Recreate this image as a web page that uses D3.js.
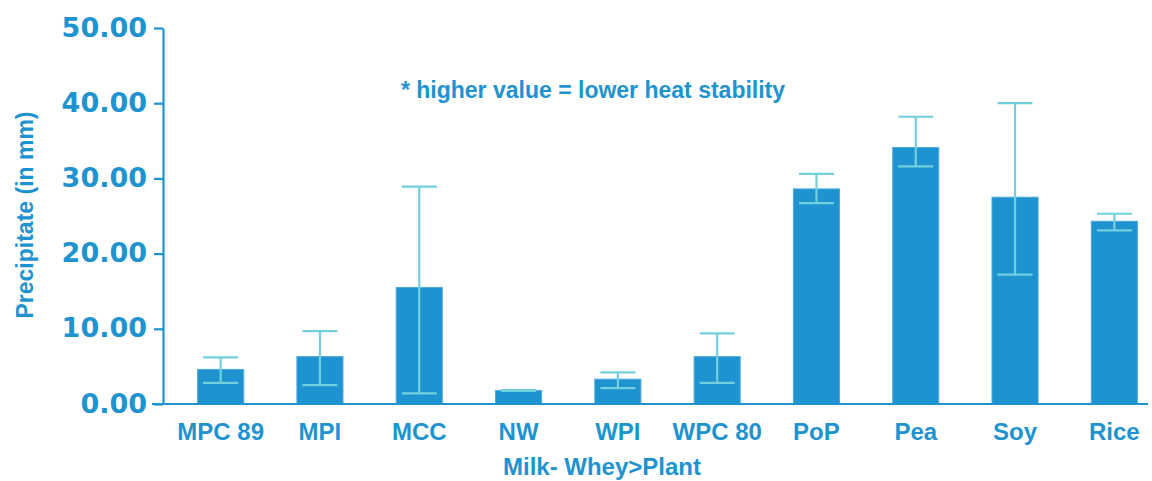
<!DOCTYPE html>
<html>
<head>
<meta charset="utf-8">
<script src="https://cdn.jsdelivr.net/npm/d3@7"></script>
<style>
  html, body { margin: 0; padding: 0; background: #ffffff; }
  svg { display: block; }
  text { font-family: "Liberation Sans", Arial, sans-serif; font-weight: bold; fill: #1e93d0; }
</style>
</head>
<body>
<svg id="chart" width="1152" height="481"></svg>
<script>
const categories = ["MPC 89", "MPI", "MCC", "NW", "WPI", "WPC 80", "PoP", "Pea", "Soy", "Rice"];
const values     = [4.6, 6.3, 15.5, 1.8, 3.3, 6.3, 28.6, 34.1, 27.5, 24.3];
const errHigh    = [6.2, 9.7, 28.9, 1.85, 4.2, 9.4, 30.6, 38.2, 40.0, 25.3];
const errLow     = [2.8, 2.5, 1.4, 1.75, 2.1, 2.8, 26.7, 31.6, 17.2, 23.1];
const yTicks     = [0, 10, 20, 30, 40, 50];
const yTitle = "Precipitate (in mm)";
const xTitle = "Milk- Whey>Plant";
const note = "* higher value = lower heat stability";

const blue = "#1e93d0";
const light = "#72d0dd";

const svg = d3.select("#chart");

const y = d3.scaleLinear().domain([0, 50]).range([404, 28]);
const x = d3.scaleBand().domain(categories).range([171, 1164])
  .paddingInner(0.536).paddingOuter(0.268);

// Y axis
const yAxis = d3.axisLeft(y).tickValues(yTicks).tickFormat(d3.format(".2f"))
  .tickSize(9).tickSizeOuter(0).tickPadding(7);
const gy = svg.append("g").attr("transform", "translate(163,0)").call(yAxis);
gy.selectAll("path, line").attr("stroke", blue).attr("stroke-width", 2.2);
gy.selectAll("text").attr("fill", blue)
  .style("font-family", "'DejaVu Sans', sans-serif").style("font-weight", "bold")
  .style("font-size", "27px").attr("dy", "0.3em");

// Bars
const data = categories.map((c, i) => ({c, v: values[i], hi: errHigh[i], lo: errLow[i]}));
svg.append("g").selectAll("rect").data(data).join("rect")
  .attr("x", d => x(d.c)).attr("width", x.bandwidth())
  .attr("y", d => y(d.v)).attr("height", d => y(0) - y(d.v))
  .attr("fill", blue).attr("stroke", "#4aa9dc").attr("stroke-width", 1);

// X baseline
svg.append("line").attr("x1", 152).attr("x2", 1148).attr("y1", y(0)).attr("y2", y(0))
  .attr("stroke", blue).attr("stroke-width", 2.2);

// Error bars
const capW = 35;
const eg = svg.append("g").attr("stroke", light).attr("stroke-width", 2.2);
data.forEach(d => {
  const cx = x(d.c) + x.bandwidth() / 2;
  eg.append("line").attr("x1", cx).attr("x2", cx).attr("y1", y(d.hi)).attr("y2", y(d.lo));
  eg.append("line").attr("x1", cx - capW/2).attr("x2", cx + capW/2).attr("y1", y(d.hi)).attr("y2", y(d.hi));
  eg.append("line").attr("x1", cx - capW/2).attr("x2", cx + capW/2).attr("y1", y(d.lo)).attr("y2", y(d.lo));
});

// Category labels
const xAxis = d3.axisBottom(x).tickSize(0).tickPadding(0);
const gx = svg.append("g").attr("transform", "translate(0,440)").call(xAxis);
gx.select(".domain").remove();
gx.selectAll("text").attr("fill", blue).attr("dy", 0).attr("y", 0)
  .style("font-family", "'Liberation Sans', Arial, sans-serif").style("font-weight", "bold")
  .style("font-size", "24px");

// Titles
svg.append("text").attr("x", 602).attr("y", 475).attr("text-anchor", "middle")
  .style("font-size", "24px").text(xTitle);
svg.append("text").attr("transform", "translate(33,215) rotate(-90)").attr("text-anchor", "middle")
  .style("font-size", "23px").text(yTitle);
svg.append("text").attr("x", 593).attr("y", 98).attr("text-anchor", "middle")
  .style("font-size", "23px").text(note);
</script>
</body>
</html>
